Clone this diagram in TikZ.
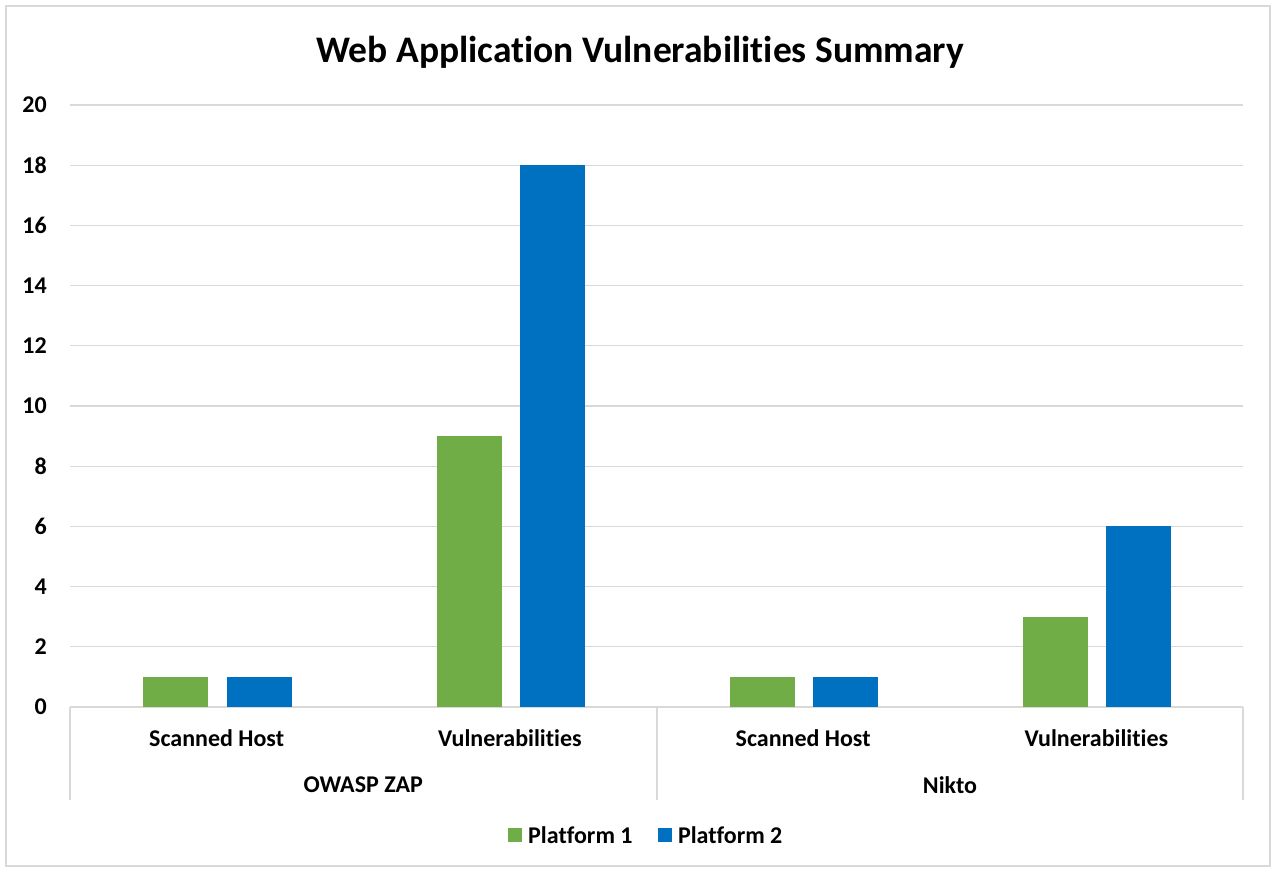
\documentclass[tikz,border=0pt]{standalone}
\usepackage{fontspec}
\setmainfont{Carlito}[Ligatures=NoCommon]
\usetikzlibrary{positioning}
\definecolor{gridgray}{HTML}{D9D9D9}
\definecolor{plgreen}{HTML}{70AD47}
\definecolor{plblue}{HTML}{0070C0}

\begin{document}
\begin{tikzpicture}[x=1pt, y=-1pt,
    bar/.style={outer sep=0,%
      inner sep=0,%
      minimum width=65pt,%
      anchor=south},
    tick/.style={font=\bfseries\fontsize{24}{28}\selectfont,
      inner sep=0,
      anchor=east},
    lab/.style={font=\bfseries\fontsize{24}{28}\selectfont,
      inner sep=0},
    key/.style={outer sep=0,
      inner sep=0,
      minimum size=14pt}
    ]
    \useasboundingbox (0,0) rectangle (1276,872);
    \draw[gridgray, line width=1.5pt] (6,6) rectangle (1270,866);
    \node[font=\bfseries\fontsize{37.5}{44}\selectfont] (title) at (640,52) {Web Application Vulnerabilities Summary};
    % grid and ticks
    \foreach \v in {0,2,...,20} {%
      \draw[gridgray, line width=1.2pt] (70,707-30.1*\v) -- (1243,707-30.1*\v);
      \node[tick] (y\v) at (47,707-30.1*\v) {\v};
    }
    \foreach \x in {70,657,1243}
      \draw[gridgray, line width=1.2pt] (\x,707) -- (\x,800);
    % bars
    \foreach \x/\v/\c/\name in {175.5/1/plgreen/g1,259.5/1/plblue/b1,469.5/9/plgreen/g2,552.5/18/plblue/b2,762.5/1/plgreen/g3,845.5/1/plblue/b3,1055.5/3/plgreen/g4,1138.5/6/plblue/b4}
      \node[bar, fill=\c, minimum height={30.1pt*\v}] (\name) at (\x,707) {};
    % categories
    \foreach \x/\name [count=\i] in {216.6/Scanned Host,509.9/Vulnerabilities,803.1/Scanned Host,1096.4/Vulnerabilities}
      \node[lab] (c\i) at (\x,738) {\name};
    \node[lab] (t1) at (363.3,785) {OWASP ZAP};
    \node[lab] (t2) at (950,785) {Nikto};
    % legend
    \node[key, fill=plgreen] (k1) at (515,835) {};
    \node[lab, right=6pt of k1] (l1) {Platform 1};
    \node[key, fill=plblue, right=25pt of l1] (k2) {};
    \node[lab, right=6pt of k2] (l2) {Platform 2};
  \end{tikzpicture}
\end{document}
